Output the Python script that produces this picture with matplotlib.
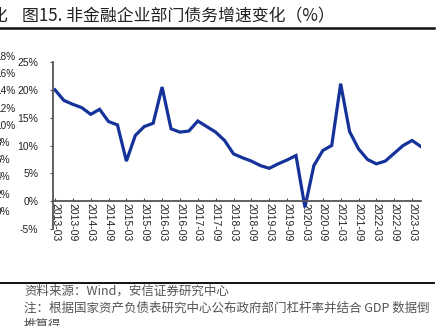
import matplotlib.pyplot as plt
from matplotlib.lines import Line2D

plt.rcParams['font.family'] = ['Liberation Sans', 'Noto Sans CJK SC', 'DejaVu Sans']

# quarterly debt growth of non-financial corporates, 2013Q1 - 2023Q2 (%)
quarters = [f"{y}-{m}" for y in range(2013, 2024) for m in ("03", "06", "09", "12")][:42]
growth = [20.0, 18.1, 17.4, 16.8, 15.6, 16.5, 14.3, 13.7,
          7.2, 11.8, 13.4, 14.0, 20.5, 13.0, 12.4, 12.6,
          14.4, 13.4, 12.4, 10.9, 8.5, 7.8, 7.2, 6.4,
          5.9, 6.7, 7.4, 8.2, -1.1, 6.4, 9.1, 10.0,
          21.1, 12.5, 9.4, 7.5, 6.7, 7.2, 8.6, 10.0,
          10.9, 9.8]
y_ticks = [-5, 0, 5, 10, 15, 20, 25]
# tick labels of the neighbouring chart, cut off at the left edge
side_labels = ["18%", "16%", "14%", "12%", "10%", "8%", "6%", "4%", "2%", "0%"]

W, H = 444, 326
fig = plt.figure(figsize=(W / 100, H / 100), dpi=100)

# page layer in pixel coordinates for captions
page = fig.add_axes([0, 0, 1, 1])
page.set_xlim(0, W)
page.set_ylim(H, 0)
page.axis('off')

ax = fig.add_axes([53 / W, (H - 229) / H, (421 - 53) / W, (229 - 62) / H])

x = list(range(len(growth)))
ax.plot(x, growth, color='#14329a', lw=2.3, solid_joinstyle='miter')

ax.set_xlim(-0.22, len(growth) - 1)
ax.set_ylim(-5, 25)
ax.set_yticks(y_ticks)
ax.set_yticklabels([f"{v}%" for v in y_ticks])
ax.set_xticks(x[::2])
ax.set_xticklabels(quarters[::2])

for s in ('top', 'right'):
    ax.spines[s].set_visible(False)
ax.spines['bottom'].set_position(('data', 0))
for s in ('left', 'bottom'):
    ax.spines[s].set_color('#555555')
    ax.spines[s].set_linewidth(1.3)
ax.tick_params(axis='y', direction='out', length=2.5, width=0.8, color='#555555',
               labelsize=7.5, pad=8, labelcolor='#222222')
ax.tick_params(axis='x', direction='in', length=2.5, width=0.8, color='#555555',
               labelsize=7.5, pad=1.5, labelcolor='#222222', labelrotation=-90)
for lab in ax.get_xticklabels():
    lab.set_verticalalignment('top')
    lab.set_horizontalalignment('center')

cjk = ['Noto Sans CJK SC', 'DejaVu Sans']

# header
page.text(22, 16, "图15. 非金融企业部门债务增速变化（%）", fontsize=12.2,
          family=cjk, color='#222222', va='center', ha='left')
page.text(8, 16, "变化", fontsize=12.2, family=cjk,
          color='#222222', va='center', ha='right')

# left-hand chart fragment
for i, t in enumerate(side_labels):
    page.text(-4.5, 57 + i * 17.2, t, fontsize=7.2, color='#222222',
              ha='left', va='center')

# footer
page.text(24, 291, "资料来源：Wind，安信证券研究中心", fontsize=9,
          family=cjk, color='#555555', va='center', ha='left')
page.text(24, 308, "注：根据国家资产负债表研究中心公布政府部门杠杆率并结合 GDP 数据倒",
          fontsize=9, family=cjk, color='#555555', va='center', ha='left')
page.text(24, 325, "推算得", fontsize=9,
          family=cjk, color='#555555', va='center', ha='left')

# rules under the header and above the source line
for y_px, lw in ((28, 1.8), (283, 1.4)):
    fig.add_artist(Line2D([0, 434 / W], [1 - y_px / H] * 2, color='#111111',
                          lw=lw, zorder=10))

fig.savefig('out.png', dpi=100)
